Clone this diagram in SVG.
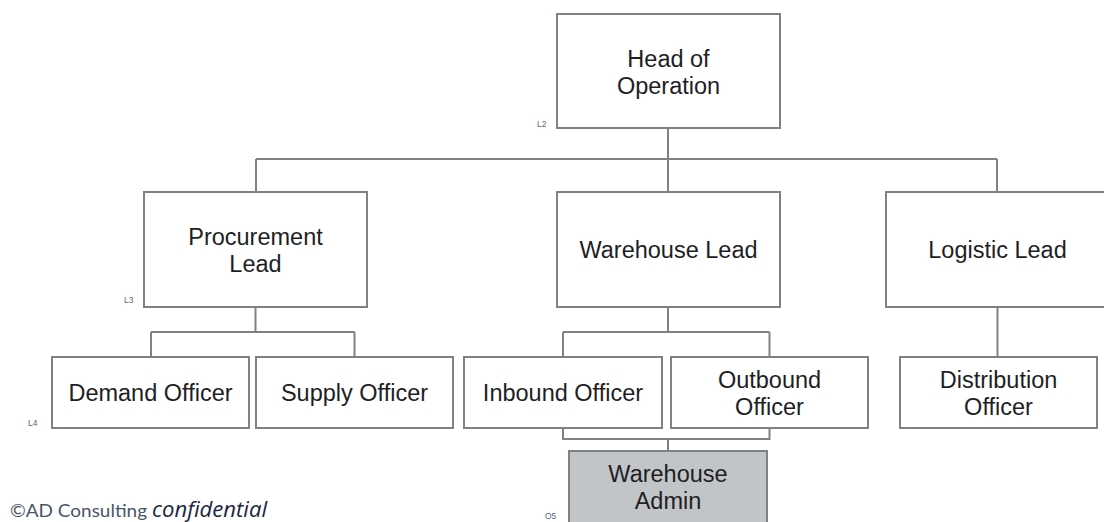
<svg xmlns="http://www.w3.org/2000/svg" width="1104" height="522" viewBox="0 0 1104 522">
  <style>
    .box { fill: #ffffff; stroke: #7e8284; stroke-width: 2; }
    .admin { fill: #c2c5c7; stroke: #7e8284; stroke-width: 2; }
    .lbl { font-family: "Liberation Sans", Arial, sans-serif; font-size: 23.5px; fill: #1e1e24; text-anchor: middle; }
    .lvl { font-family: "Liberation Sans", Arial, sans-serif; font-size: 8.5px; fill: #5b6678; }
    .wire { fill: none; stroke: #7e8284; stroke-width: 2; }
  </style>
  <rect width="1104" height="522" fill="#ffffff"/>

  <!-- reporting lines -->
  <g id="connectors">
    <path class="wire" d="M668,128 V192 M256,159 H997 M256,159 V192 M997,159 V192"/>
    <path class="wire" d="M255.5,307 V332 M151,332 H354.5 M151,332 V357 M354.5,332 V357"/>
    <path class="wire" d="M668,307 V332 M563,332 H769.5 M563,332 V357 M769.5,332 V357"/>
    <path class="wire" d="M563,428 V439 H769.5 V428 M668,439 V451"/>
    <path class="wire" d="M997.5,307 V357"/>
  </g>

  <g id="head-of-operation">
    <rect class="box" x="557" y="14" width="223" height="114"/>
    <text class="lbl" x="668.5" y="67">Head of</text>
    <text class="lbl" x="668.5" y="94">Operation</text>
    <text class="lvl" x="537" y="127">L2</text>
  </g>

  <g id="procurement-lead">
    <rect class="box" x="144" y="192" width="223" height="115"/>
    <text class="lbl" x="255.5" y="245">Procurement</text>
    <text class="lbl" x="255.5" y="272">Lead</text>
    <text class="lvl" x="124" y="303">L3</text>
  </g>

  <g id="warehouse-lead">
    <rect class="box" x="557" y="192" width="223" height="115"/>
    <text class="lbl" x="668.5" y="258">Warehouse Lead</text>
  </g>

  <g id="logistic-lead">
    <rect class="box" x="886" y="192" width="223" height="115"/>
    <text class="lbl" x="997.5" y="258">Logistic Lead</text>
  </g>

  <g id="demand-officer">
    <rect class="box" x="52" y="357" width="197" height="71"/>
    <text class="lbl" x="150.5" y="401">Demand Officer</text>
    <text class="lvl" x="28" y="426">L4</text>
  </g>

  <g id="supply-officer">
    <rect class="box" x="256" y="357" width="197" height="71"/>
    <text class="lbl" x="354.5" y="401">Supply Officer</text>
  </g>

  <g id="inbound-officer">
    <rect class="box" x="464" y="357" width="198" height="71"/>
    <text class="lbl" x="563" y="401">Inbound Officer</text>
  </g>

  <g id="outbound-officer">
    <rect class="box" x="671" y="357" width="197" height="71"/>
    <text class="lbl" x="769.5" y="388">Outbound</text>
    <text class="lbl" x="769.5" y="415">Officer</text>
  </g>

  <g id="distribution-officer">
    <rect class="box" x="900" y="357" width="197" height="71"/>
    <text class="lbl" x="998.5" y="388">Distribution</text>
    <text class="lbl" x="998.5" y="415">Officer</text>
  </g>

  <g id="warehouse-admin">
    <rect class="admin" x="569" y="451" width="198" height="73"/>
    <text class="lbl" x="668" y="482">Warehouse</text>
    <text class="lbl" x="668" y="509">Admin</text>
    <text class="lvl" x="545" y="519">O5</text>
  </g>

  <!-- footer -->
  <g id="footer">
    <text x="10" y="517" font-family="Lato, 'Open Sans', sans-serif" font-size="18" fill="#4a5568" textLength="137" lengthAdjust="spacingAndGlyphs">©AD Consulting</text>
    <text x="152" y="517" font-family="'Open Sans', Lato, sans-serif" font-size="21" font-style="italic" fill="#1c2540" textLength="115" lengthAdjust="spacingAndGlyphs">confidential</text>
  </g>
</svg>
